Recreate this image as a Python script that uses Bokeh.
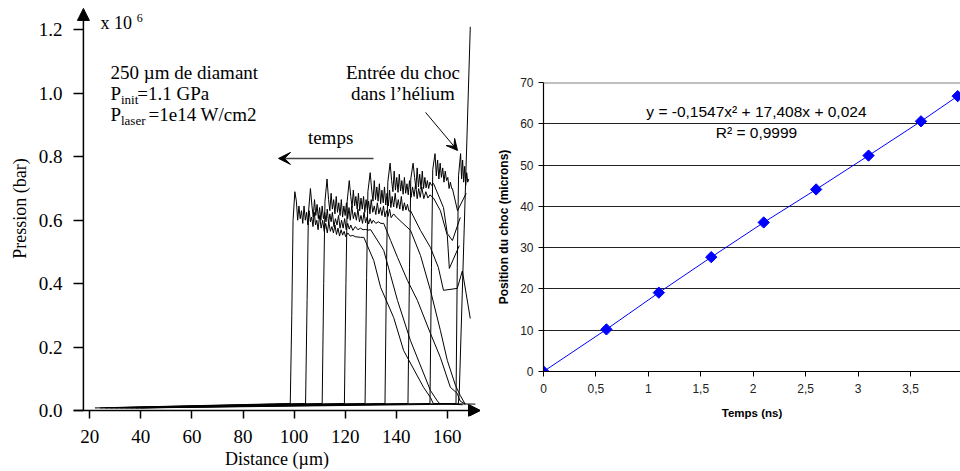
from bokeh.plotting import figure
from bokeh.layouts import row
from bokeh.models import (FixedTicker, PrintfTickFormatter, CustomJSTickFormatter,
                          Label, Arrow, NormalHead, VeeHead, Range1d, Span)
from bokeh.embed import file_html
from bokeh.resources import INLINE

SERIF = "Liberation Serif"
SANS = "Liberation Sans"

# ---------------- left panel data: pressure profiles (x in µm, y in 1e6 bar) ----------------
P1_x = [22, 98.5, 99.1, 99.6, 100.3, 100.9, 101.4, 101.9, 102.4, 102.9, 103.4, 103.9, 104.4, 104.9,
        105.4, 105.9, 106.4, 106.9, 107.4, 107.9, 108.4, 108.9, 109.4, 110.0, 110.6, 111.2, 111.8,
        112.4, 113.0, 113.6, 114.2, 114.8, 115.4, 116.0, 116.6, 117.2, 117.8, 118.4, 119.0, 119.6,
        120.2, 121.0, 122.0, 123.0, 124.0, 125.0, 126.0, 127.3, 131.2, 133.9, 139.0, 142.9, 150.7,
        153.4, 154.5, 171.0]
P1_y = [0.008, 0.022, 0.30, 0.60, 0.69, 0.66, 0.60, 0.645, 0.605, 0.63, 0.59, 0.645, 0.60, 0.625,
        0.585, 0.63, 0.595, 0.61, 0.58, 0.625, 0.585, 0.60, 0.57, 0.615, 0.575, 0.60, 0.565, 0.59,
        0.56, 0.595, 0.565, 0.58, 0.56, 0.585, 0.555, 0.575, 0.55, 0.57, 0.553, 0.565, 0.548,
        0.56, 0.55, 0.552, 0.548, 0.547, 0.546, 0.546, 0.473, 0.388, 0.293, 0.189, 0.073, 0.041,
        0.022, 0.02]

P2_x = [24, 104.5, 105.1, 105.6, 106.4, 107.0, 107.5, 108.0, 108.5, 109.0, 109.5, 110.0, 110.5,
        111.0, 111.5, 112.0, 112.5, 113.0, 113.5, 114.0, 114.5, 115.0, 115.6, 116.2, 116.8, 117.4,
        118.0, 118.6, 119.2, 119.8, 120.4, 121.0, 121.6, 122.2, 123.0, 124.0, 125.0, 126.0, 127.0,
        128.0, 129.0, 130.0, 135.1, 137.8, 140.5, 145.6, 153.4, 156.1, 157.0, 166.0]
P2_y = [0.008, 0.022, 0.35, 0.62, 0.70, 0.645, 0.61, 0.665, 0.615, 0.65, 0.605, 0.64, 0.60,
        0.645, 0.605, 0.625, 0.595, 0.635, 0.59, 0.62, 0.595, 0.625, 0.58, 0.605, 0.585, 0.615,
        0.575, 0.60, 0.575, 0.605, 0.57, 0.59, 0.572, 0.585, 0.568, 0.58, 0.57, 0.575, 0.57,
        0.571, 0.569, 0.57, 0.505, 0.426, 0.347, 0.22, 0.063, 0.03, 0.022, 0.018]

P3_x = [26, 111.0, 111.6, 112.1, 112.9, 113.5, 114.0, 114.5, 115.0, 115.5, 116.0, 116.5, 117.0,
        117.5, 118.0, 118.5, 119.0, 119.5, 120.0, 120.5, 121.0, 121.5, 122.0, 122.6, 123.2, 123.8,
        124.4, 125.0, 125.6, 126.2, 126.8, 127.4, 128.0, 128.6, 129.2, 129.8, 130.4, 131.0, 132.0,
        133.0, 134.0, 135.1, 137.8, 140.5, 144.4, 148.3, 153.4, 157.3, 161.2, 163.9, 165.0, 167.0]
P3_y = [0.008, 0.022, 0.40, 0.66, 0.73, 0.665, 0.63, 0.685, 0.635, 0.665, 0.62, 0.675, 0.625,
        0.655, 0.615, 0.665, 0.61, 0.645, 0.615, 0.655, 0.605, 0.64, 0.60, 0.645, 0.605, 0.625,
        0.60, 0.635, 0.595, 0.615, 0.59, 0.625, 0.592, 0.61, 0.588, 0.605, 0.59, 0.60, 0.59,
        0.595, 0.59, 0.59, 0.536, 0.483, 0.41, 0.347, 0.243, 0.167, 0.073, 0.054, 0.03, 0.02]

P4_x = [28, 119.7, 120.3, 120.8, 121.6, 122.2, 122.7, 123.2, 123.7, 124.2, 124.7, 125.2, 125.7,
        126.2, 126.7, 127.2, 127.7, 128.2, 128.7, 129.2, 129.7, 130.2, 130.8, 131.4, 132.0, 132.6,
        133.2, 133.8, 134.4, 135.0, 135.6, 136.2, 136.8, 137.4, 138.0, 139.0, 140.0, 145.6, 149.5,
        153.4, 157.3, 160.0, 163.2, 165.1, 167.0]
P4_y = [0.008, 0.022, 0.40, 0.66, 0.725, 0.675, 0.64, 0.695, 0.645, 0.675, 0.635, 0.685, 0.63,
        0.67, 0.635, 0.675, 0.625, 0.665, 0.632, 0.66, 0.62, 0.665, 0.625, 0.645, 0.618, 0.655,
        0.62, 0.64, 0.615, 0.645, 0.61, 0.63, 0.612, 0.635, 0.608, 0.62, 0.61, 0.568, 0.489,
        0.379, 0.252, 0.158, 0.079, 0.047, 0.02]

P5_x = [30, 127.8, 128.4, 128.9, 129.8, 130.4, 130.9, 131.4, 131.9, 132.4, 132.9, 133.4, 133.9,
        134.4, 134.9, 135.4, 135.9, 136.4, 136.9, 137.4, 137.9, 138.4, 139.0, 139.6, 140.2, 140.8,
        141.4, 142.0, 142.6, 143.2, 143.8, 144.4, 145.0, 145.6, 149.5, 153.4, 156.5, 158.5, 163.9,
        165.9, 169.0]
P5_y = [0.008, 0.022, 0.42, 0.69, 0.75, 0.695, 0.66, 0.725, 0.665, 0.705, 0.66, 0.715, 0.652,
        0.695, 0.655, 0.705, 0.648, 0.685, 0.645, 0.695, 0.64, 0.675, 0.642, 0.685, 0.638, 0.665,
        0.635, 0.675, 0.63, 0.655, 0.632, 0.65, 0.628, 0.63, 0.568, 0.514, 0.451, 0.379, 0.385,
        0.44, 0.29]

P6_x = [32, 135.6, 136.2, 136.7, 137.6, 138.2, 138.7, 139.2, 139.7, 140.2, 140.7, 141.2, 141.7,
        142.2, 142.7, 143.2, 143.7, 144.2, 144.7, 145.2, 145.8, 146.4, 147.0, 147.6, 148.2, 148.8,
        149.4, 150.0, 150.8, 151.6, 152.4, 153.2, 154.6, 157.3, 160.0, 160.8, 164.7]
P6_y = [0.008, 0.022, 0.45, 0.72, 0.78, 0.725, 0.69, 0.755, 0.695, 0.735, 0.688, 0.745, 0.692,
        0.725, 0.682, 0.735, 0.685, 0.715, 0.68, 0.725, 0.672, 0.705, 0.675, 0.715, 0.668, 0.70,
        0.672, 0.705, 0.668, 0.69, 0.67, 0.68, 0.67, 0.63, 0.552, 0.448, 0.52]

P7_x = [34, 144.6, 145.2, 145.7, 146.6, 147.2, 147.7, 148.2, 148.7, 149.2, 149.7, 150.2, 150.7,
        151.2, 151.7, 152.2, 152.7, 153.2, 153.8, 154.6, 158.5, 160.0, 162.0, 165.1]
P7_y = [0.008, 0.022, 0.45, 0.73, 0.78, 0.735, 0.70, 0.765, 0.705, 0.745, 0.698, 0.755, 0.70,
        0.735, 0.702, 0.725, 0.70, 0.72, 0.71, 0.716, 0.64, 0.558, 0.536, 0.609]

P8_x = [36, 153.2, 153.8, 154.3, 155.2, 155.7, 156.2, 156.7, 157.2, 157.7, 158.2, 158.7, 159.2,
        159.7, 160.2, 160.7, 161.2, 161.7, 162.0, 164.0, 167.4]
P8_y = [0.008, 0.022, 0.45, 0.76, 0.81, 0.74, 0.79, 0.73, 0.78, 0.735, 0.765, 0.72, 0.755, 0.725,
        0.735, 0.70, 0.72, 0.70, 0.70, 0.63, 0.685]

P9_x = [38, 163.4, 163.9, 164.4, 165.2, 165.6, 166.0, 166.4, 166.8, 167.2, 167.6, 168.0, 168.4]
P9_y = [0.008, 0.022, 0.45, 0.74, 0.81, 0.73, 0.79, 0.72, 0.77, 0.71, 0.75, 0.72, 0.73]

P10_x = [40, 164.3, 164.7, 169.0]
P10_y = [0.008, 0.02, 0.06, 1.21]

profiles_x = [P1_x, P2_x, P3_x, P4_x, P5_x, P6_x, P7_x, P8_x, P9_x, P10_x]
profiles_y = [P1_y, P2_y, P3_y, P4_y, P5_y, P6_y, P7_y, P8_y, P9_y, P10_y]

left_xticks = [20, 40, 60, 80, 100, 120, 140, 160]
left_yticks = [0.0, 0.2, 0.4, 0.6, 0.8, 1.0, 1.2]

# ---------------- right panel data ----------------
temps_ns = [0, 0.6, 1.1, 1.6, 2.1, 2.6, 3.1, 3.6, 3.95]
position_um = [0, 10.2, 19.1, 27.7, 36.1, 44.1, 52.3, 60.6, 66.7]
right_xticks = [0, 0.5, 1, 1.5, 2, 2.5, 3, 3.5, 4]
right_yticks = [0, 10, 20, 30, 40, 50, 60, 70]

# ======================= LEFT FIGURE =======================
X0, X1 = 13.62, 173.0
Y0, Y1 = -0.019, 1.293
p1 = figure(width=480, height=471, x_range=Range1d(X0, X1), y_range=Range1d(Y0, Y1),
            output_backend="svg", toolbar_location=None,
            min_border_left=73, min_border_right=0, min_border_top=0, min_border_bottom=55)
p1.frame_align = False
p1.title.visible = False
p1.outline_line_color = None
p1.xgrid.visible = False
p1.ygrid.visible = False

for xs, ys in zip(profiles_x, profiles_y):
    n = min(len(xs), len(ys))
    p1.line(xs[:n], ys[:n], line_color="black", line_width=1)

for ax in (p1.xaxis[0], p1.yaxis[0]):
    ax.axis_line_color = None
    ax.major_tick_line_color = "black"
    ax.major_tick_line_width = 1.5
    ax.minor_tick_in = 0
    ax.minor_tick_out = 0
    ax.major_label_text_font = SERIF
    ax.major_label_text_font_size = "19px"
    ax.major_label_text_color = "black"
    ax.axis_label_text_font = SERIF
    ax.axis_label_text_font_size = "18px"
    ax.axis_label_text_font_style = "normal"
    ax.axis_label_text_color = "black"

p1.xaxis.ticker = FixedTicker(ticks=left_xticks)
p1.xaxis.major_tick_in = 6
p1.xaxis.major_tick_out = 2
p1.xaxis.major_label_standoff = 11
p1.xaxis.axis_label = "Distance (µm)"
p1.xaxis.axis_label_standoff = 3

p1.yaxis.ticker = FixedTicker(ticks=left_yticks)
p1.yaxis.formatter = PrintfTickFormatter(format="%.1f")
p1.yaxis.major_tick_in = 10
p1.yaxis.major_tick_out = 0
p1.yaxis.major_label_standoff = 11
p1.yaxis.axis_label = "Pression (bar)"
p1.yaxis.axis_label_standoff = 6

# axis lines with arrowheads (x axis at y = 0, y axis at x = 17.5 µm)
p1.add_layout(Arrow(end=NormalHead(size=12, fill_color="black", line_color="black"),
                    x_start=X0, y_start=0, x_end=X1, y_end=0, line_width=1.5))
p1.add_layout(Arrow(end=NormalHead(size=12, fill_color="black", line_color="black"),
                    x_start=17.5, y_start=0, x_end=17.5, y_end=1.268, line_width=1.5))

def lab(plot, x, y, text, size="19px", align="left", font=SERIF, style="normal"):
    plot.add_layout(Label(x=x, y=y, text=text, text_font=font, text_font_size=size,
                          text_align=align, text_baseline="middle", text_color="black",
                          text_font_style=style))

lab(p1, 24.2, 1.221, "x 10", size="18px")
lab(p1, 38.4, 1.237, "6", size="12px")
lab(p1, 28.1, 1.066, "250 µm de diamant")
lab(p1, 28.1, 1.000, "P")
lab(p1, 32.2, 0.981, "init", size="13px")
lab(p1, 38.6, 1.000, "=1.1 GPa")
lab(p1, 28.1, 0.934, "P")
lab(p1, 32.2, 0.915, "laser", size="13px")
lab(p1, 43.0, 0.934, "=1e14 W/cm2")
lab(p1, 142.6, 1.066, "Entrée du choc", align="center")
lab(p1, 142.6, 1.000, "dans l’hélium", align="center")
lab(p1, 114.3, 0.861, "temps", align="center")

p1.add_layout(Arrow(end=VeeHead(size=12, fill_color="black", line_color="black"),
                    x_start=131.1, y_start=0.795, x_end=93.9, y_end=0.795,
                    line_color="#444444", line_width=1.5))
p1.add_layout(Arrow(end=VeeHead(size=11, fill_color="black", line_color="black"),
                    x_start=151.5, y_start=0.940, x_end=164.0, y_end=0.820,
                    line_color="black", line_width=1))

# ======================= RIGHT FIGURE =======================
p2 = figure(width=480, height=471, x_range=Range1d(0, 3.977), y_range=Range1d(0, 70),
            output_backend="svg", toolbar_location=None,
            min_border_left=63, min_border_right=0, min_border_top=82, min_border_bottom=100)
p2.frame_align = False
p2.title.visible = False
p2.outline_line_color = None
p2.xgrid.visible = False
p2.ygrid.ticker = FixedTicker(ticks=right_yticks)
p2.ygrid.grid_line_color = "#222222"
p2.ygrid.grid_line_width = 1
p2.add_layout(Span(location=70, dimension="width", line_color="#808080", line_width=2))

for ax in (p2.xaxis[0], p2.yaxis[0]):
    ax.axis_line_color = "black"
    ax.axis_line_width = 1.2
    ax.major_tick_line_color = "black"
    ax.major_tick_out = 5
    ax.major_tick_in = 0
    ax.minor_tick_in = 0
    ax.minor_tick_out = 0
    ax.major_label_text_font = SANS
    ax.major_label_text_font_size = "12px"
    ax.major_label_text_color = "#222222"
    ax.axis_label_text_font = SANS
    ax.axis_label_text_font_style = "bold"
    ax.axis_label_text_color = "black"

p2.xaxis.ticker = FixedTicker(ticks=right_xticks)
p2.xaxis.formatter = CustomJSTickFormatter(code="return tick.toString().replace('.', ',');")
p2.xaxis.major_label_standoff = 7
p2.xaxis.axis_label = "Temps (ns)"
p2.xaxis.axis_label_text_font_size = "11.5px"
p2.xaxis.axis_label_standoff = 11

p2.yaxis.ticker = FixedTicker(ticks=right_yticks)
p2.yaxis.major_label_standoff = 5
p2.yaxis.axis_label = "Position du choc (microns)"
p2.yaxis.axis_label_text_font_size = "12px"
p2.yaxis.axis_label_standoff = 6

p2.line(temps_ns, position_um, line_color="#0000FF", line_width=1)
p2.scatter(temps_ns, position_um, marker="square", angle=0.785398, size=8,
           fill_color="#0000FF", line_color="#0000FF")

lab(p2, 2.031, 62.98, "y = -0,1547x² + 17,408x + 0,024", size="15.5px", align="center", font=SANS)
lab(p2, 2.031, 57.89, "R² = 0,9999", size="15.5px", align="center", font=SANS)

layout = row(p1, p2)
open("out.html", "w").write(file_html(layout, INLINE))
